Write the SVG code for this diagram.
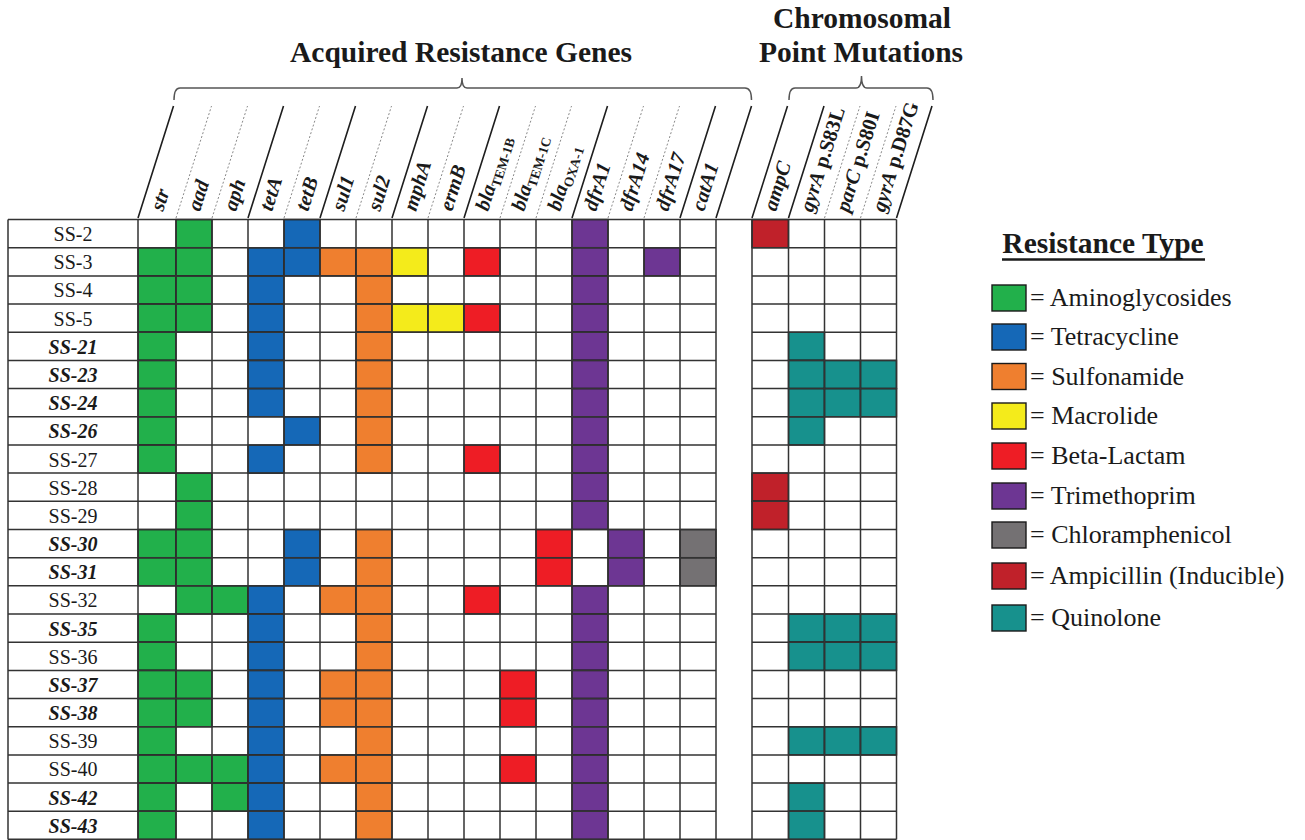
<svg xmlns="http://www.w3.org/2000/svg" width="1305" height="840" viewBox="0 0 1305 840">
<style>
text{font-family:"Liberation Serif","Times New Roman",serif;fill:#1a1a1a}
.title{font-size:29.5px;font-weight:bold;text-anchor:middle}
.hl{font-size:20.5px;font-weight:bold;font-style:italic}
.sub{font-size:13.5px;font-style:normal}
.up{font-style:normal}
.rl{font-size:20px;text-anchor:middle}
.rb{font-size:20px;text-anchor:middle;font-weight:bold;font-style:italic}
.lg{font-size:26px}
.solid{stroke:#1e1e1e;stroke-width:1.6;fill:none}
.dot{stroke:#8a8a8a;stroke-width:1;stroke-dasharray:2 2;fill:none}
.brace{stroke:#555;stroke-width:1.5;fill:none}
.grid{stroke:#333;stroke-width:1.5;fill:none}
.c{stroke:#1a1a1a;stroke-width:1.4}
.g{fill:#22b04b}.b{fill:#1568b7}.o{fill:#ef7f2f}.y{fill:#f4eb1b}.r{fill:#ee1d25}.p{fill:#6d3693}.k{fill:#747173}.d{fill:#c0212a}.t{fill:#17918d}
</style>
<rect width="1305" height="840" fill="#fff"/>

<g id="titles">
<text class="title" x="461" y="62">Acquired Resistance Genes</text>
<text class="title" x="862" y="28">Chromosomal</text>
<text class="title" x="861" y="62">Point Mutations</text>
</g>

<g id="connectors">
<path class="brace" d="M174,100 Q174,88 180,88 L457,88 Q462,88 462,78 Q462,88 467,88 L745,88 Q751.5,88 751.5,100"/>
<path class="brace" d="M789,100 Q789,88 795,88 L856,88 Q861.5,88 861.5,76 Q861.5,88 867,88 L927,88 Q933,88 933,100"/>
<g id="header-lines">
<path class="solid" d="M138,218L173.5,106M248,218L283.5,106M320,218L355.5,106M392,218L427.5,106M464,218L499.5,106M572,218L607.5,106M680,218L715.5,106M716,218L751.5,106M752,218L787.5,106M788.5,218L824,106M896.5,218L932,106"/>
<path class="dot" d="M176,218L211.5,106M212,218L247.5,106M284,218L319.5,106M356,218L391.5,106M428,218L463.5,106M500,218L535.5,106M536,218L571.5,106M608,218L643.5,106M644,218L679.5,106M824.5,218L860,106M860.5,218L896,106"/>
</g>
</g>

<g id="column-labels">
<text class="hl" transform="translate(163,212) rotate(-72.4)">str</text>
<text class="hl" transform="translate(200,212) rotate(-72.4)">aad</text>
<text class="hl" transform="translate(236,212) rotate(-72.4)">aph</text>
<text class="hl" transform="translate(272,212) rotate(-72.4)">tetA</text>
<text class="hl" transform="translate(308,212) rotate(-72.4)">tetB</text>
<text class="hl" transform="translate(344,212) rotate(-72.4)">sul1</text>
<text class="hl" transform="translate(380,212) rotate(-72.4)">sul2</text>
<text class="hl" transform="translate(416,212) rotate(-72.4)">mphA</text>
<text class="hl" transform="translate(452,212) rotate(-72.4)">ermB</text>
<text class="hl" transform="translate(488,212) rotate(-72.4)">bla<tspan class="sub" dy="4">TEM-1B</tspan></text>
<text class="hl" transform="translate(524,212) rotate(-72.4)">bla<tspan class="sub" dy="4">TEM-1C</tspan></text>
<text class="hl" transform="translate(560,212) rotate(-72.4)">bla<tspan class="sub" dy="4">OXA-1</tspan></text>
<text class="hl" transform="translate(596,212) rotate(-72.4)">dfrA1</text>
<text class="hl" transform="translate(632,212) rotate(-72.4)">dfrA14</text>
<text class="hl" transform="translate(668,212) rotate(-72.4)">dfrA17</text>
<text class="hl" transform="translate(704,212) rotate(-72.4)">catA1</text>
<text class="hl" transform="translate(776,212) rotate(-72.4)">ampC</text>
<text class="hl" transform="translate(812.5,213) rotate(-72.4)">gyrA<tspan class="up"> p.S83L</tspan></text>
<text class="hl" transform="translate(848.5,213) rotate(-72.4)">parC<tspan class="up"> p.S80I</tspan></text>
<text class="hl" transform="translate(884.5,213) rotate(-72.4)">gyrA<tspan class="up"> p.D87G</tspan></text>
</g>

<g id="table">
<rect x="8" y="219.5" width="708" height="620" fill="#fff"/>
<rect x="752" y="219.5" width="144.5" height="620" fill="#fff"/>
<g id="cells">
<g transform="translate(0,219.5)"><rect class="c g" x="176" width="36" height="28.18"/><rect class="c b" x="284" width="36" height="28.18"/><rect class="c p" x="572" width="36" height="28.18"/><rect class="c d" x="752" width="36.5" height="28.18"/></g>
<g transform="translate(0,247.7)"><rect class="c g" x="138" width="38" height="28.18"/><rect class="c g" x="176" width="36" height="28.18"/><rect class="c b" x="248" width="36" height="28.18"/><rect class="c b" x="284" width="36" height="28.18"/><rect class="c o" x="320" width="36" height="28.18"/><rect class="c o" x="356" width="36" height="28.18"/><rect class="c y" x="392" width="36" height="28.18"/><rect class="c r" x="464" width="36" height="28.18"/><rect class="c p" x="572" width="36" height="28.18"/><rect class="c p" x="644" width="36" height="28.18"/></g>
<g transform="translate(0,275.9)"><rect class="c g" x="138" width="38" height="28.18"/><rect class="c g" x="176" width="36" height="28.18"/><rect class="c b" x="248" width="36" height="28.18"/><rect class="c o" x="356" width="36" height="28.18"/><rect class="c p" x="572" width="36" height="28.18"/></g>
<g transform="translate(0,304)"><rect class="c g" x="138" width="38" height="28.18"/><rect class="c g" x="176" width="36" height="28.18"/><rect class="c b" x="248" width="36" height="28.18"/><rect class="c o" x="356" width="36" height="28.18"/><rect class="c y" x="392" width="36" height="28.18"/><rect class="c y" x="428" width="36" height="28.18"/><rect class="c r" x="464" width="36" height="28.18"/><rect class="c p" x="572" width="36" height="28.18"/></g>
<g transform="translate(0,332.2)"><rect class="c g" x="138" width="38" height="28.18"/><rect class="c b" x="248" width="36" height="28.18"/><rect class="c o" x="356" width="36" height="28.18"/><rect class="c p" x="572" width="36" height="28.18"/><rect class="c t" x="788.5" width="36" height="28.18"/></g>
<g transform="translate(0,360.4)"><rect class="c g" x="138" width="38" height="28.18"/><rect class="c b" x="248" width="36" height="28.18"/><rect class="c o" x="356" width="36" height="28.18"/><rect class="c p" x="572" width="36" height="28.18"/><rect class="c t" x="788.5" width="36" height="28.18"/><rect class="c t" x="824.5" width="36" height="28.18"/><rect class="c t" x="860.5" width="36" height="28.18"/></g>
<g transform="translate(0,388.6)"><rect class="c g" x="138" width="38" height="28.18"/><rect class="c b" x="248" width="36" height="28.18"/><rect class="c o" x="356" width="36" height="28.18"/><rect class="c p" x="572" width="36" height="28.18"/><rect class="c t" x="788.5" width="36" height="28.18"/><rect class="c t" x="824.5" width="36" height="28.18"/><rect class="c t" x="860.5" width="36" height="28.18"/></g>
<g transform="translate(0,416.8)"><rect class="c g" x="138" width="38" height="28.18"/><rect class="c b" x="284" width="36" height="28.18"/><rect class="c o" x="356" width="36" height="28.18"/><rect class="c p" x="572" width="36" height="28.18"/><rect class="c t" x="788.5" width="36" height="28.18"/></g>
<g transform="translate(0,445)"><rect class="c g" x="138" width="38" height="28.18"/><rect class="c b" x="248" width="36" height="28.18"/><rect class="c o" x="356" width="36" height="28.18"/><rect class="c r" x="464" width="36" height="28.18"/><rect class="c p" x="572" width="36" height="28.18"/></g>
<g transform="translate(0,473.1)"><rect class="c g" x="176" width="36" height="28.18"/><rect class="c p" x="572" width="36" height="28.18"/><rect class="c d" x="752" width="36.5" height="28.18"/></g>
<g transform="translate(0,501.3)"><rect class="c g" x="176" width="36" height="28.18"/><rect class="c p" x="572" width="36" height="28.18"/><rect class="c d" x="752" width="36.5" height="28.18"/></g>
<g transform="translate(0,529.5)"><rect class="c g" x="138" width="38" height="28.18"/><rect class="c g" x="176" width="36" height="28.18"/><rect class="c b" x="284" width="36" height="28.18"/><rect class="c o" x="356" width="36" height="28.18"/><rect class="c r" x="536" width="36" height="28.18"/><rect class="c p" x="608" width="36" height="28.18"/><rect class="c k" x="680" width="36" height="28.18"/></g>
<g transform="translate(0,557.7)"><rect class="c g" x="138" width="38" height="28.18"/><rect class="c g" x="176" width="36" height="28.18"/><rect class="c b" x="284" width="36" height="28.18"/><rect class="c o" x="356" width="36" height="28.18"/><rect class="c r" x="536" width="36" height="28.18"/><rect class="c p" x="608" width="36" height="28.18"/><rect class="c k" x="680" width="36" height="28.18"/></g>
<g transform="translate(0,585.8)"><rect class="c g" x="176" width="36" height="28.18"/><rect class="c g" x="212" width="36" height="28.18"/><rect class="c b" x="248" width="36" height="28.18"/><rect class="c o" x="320" width="36" height="28.18"/><rect class="c o" x="356" width="36" height="28.18"/><rect class="c r" x="464" width="36" height="28.18"/><rect class="c p" x="572" width="36" height="28.18"/></g>
<g transform="translate(0,614)"><rect class="c g" x="138" width="38" height="28.18"/><rect class="c b" x="248" width="36" height="28.18"/><rect class="c o" x="356" width="36" height="28.18"/><rect class="c p" x="572" width="36" height="28.18"/><rect class="c t" x="788.5" width="36" height="28.18"/><rect class="c t" x="824.5" width="36" height="28.18"/><rect class="c t" x="860.5" width="36" height="28.18"/></g>
<g transform="translate(0,642.2)"><rect class="c g" x="138" width="38" height="28.18"/><rect class="c b" x="248" width="36" height="28.18"/><rect class="c o" x="356" width="36" height="28.18"/><rect class="c p" x="572" width="36" height="28.18"/><rect class="c t" x="788.5" width="36" height="28.18"/><rect class="c t" x="824.5" width="36" height="28.18"/><rect class="c t" x="860.5" width="36" height="28.18"/></g>
<g transform="translate(0,670.4)"><rect class="c g" x="138" width="38" height="28.18"/><rect class="c g" x="176" width="36" height="28.18"/><rect class="c b" x="248" width="36" height="28.18"/><rect class="c o" x="320" width="36" height="28.18"/><rect class="c o" x="356" width="36" height="28.18"/><rect class="c r" x="500" width="36" height="28.18"/><rect class="c p" x="572" width="36" height="28.18"/></g>
<g transform="translate(0,698.6)"><rect class="c g" x="138" width="38" height="28.18"/><rect class="c g" x="176" width="36" height="28.18"/><rect class="c b" x="248" width="36" height="28.18"/><rect class="c o" x="320" width="36" height="28.18"/><rect class="c o" x="356" width="36" height="28.18"/><rect class="c r" x="500" width="36" height="28.18"/><rect class="c p" x="572" width="36" height="28.18"/></g>
<g transform="translate(0,726.7)"><rect class="c g" x="138" width="38" height="28.18"/><rect class="c b" x="248" width="36" height="28.18"/><rect class="c o" x="356" width="36" height="28.18"/><rect class="c p" x="572" width="36" height="28.18"/><rect class="c t" x="788.5" width="36" height="28.18"/><rect class="c t" x="824.5" width="36" height="28.18"/><rect class="c t" x="860.5" width="36" height="28.18"/></g>
<g transform="translate(0,754.9)"><rect class="c g" x="138" width="38" height="28.18"/><rect class="c g" x="176" width="36" height="28.18"/><rect class="c g" x="212" width="36" height="28.18"/><rect class="c b" x="248" width="36" height="28.18"/><rect class="c o" x="320" width="36" height="28.18"/><rect class="c o" x="356" width="36" height="28.18"/><rect class="c r" x="500" width="36" height="28.18"/><rect class="c p" x="572" width="36" height="28.18"/></g>
<g transform="translate(0,783.1)"><rect class="c g" x="138" width="38" height="28.18"/><rect class="c g" x="212" width="36" height="28.18"/><rect class="c b" x="248" width="36" height="28.18"/><rect class="c o" x="356" width="36" height="28.18"/><rect class="c p" x="572" width="36" height="28.18"/><rect class="c t" x="788.5" width="36" height="28.18"/></g>
<g transform="translate(0,811.3)"><rect class="c g" x="138" width="38" height="28.18"/><rect class="c b" x="248" width="36" height="28.18"/><rect class="c o" x="356" width="36" height="28.18"/><rect class="c p" x="572" width="36" height="28.18"/><rect class="c t" x="788.5" width="36" height="28.18"/></g>
</g>
<g id="grid" class="grid">
<path d="M8,219.5H896.5M8,247.7H716M752,247.7H896.5M8,275.9H716M752,275.9H896.5M8,304H716M752,304H896.5M8,332.2H716M752,332.2H896.5M8,360.4H716M752,360.4H896.5M8,388.6H716M752,388.6H896.5M8,416.8H716M752,416.8H896.5M8,445H716M752,445H896.5M8,473.1H716M752,473.1H896.5M8,501.3H716M752,501.3H896.5M8,529.5H716M752,529.5H896.5M8,557.7H716M752,557.7H896.5M8,585.8H716M752,585.8H896.5M8,614H716M752,614H896.5M8,642.2H716M752,642.2H896.5M8,670.4H716M752,670.4H896.5M8,698.6H716M752,698.6H896.5M8,726.7H716M752,726.7H896.5M8,754.9H716M752,754.9H896.5M8,783.1H716M752,783.1H896.5M8,811.3H716M752,811.3H896.5M8,839.3H896.5"/>
<path d="M8,219.5V839.5M138,219.5V839.5M176,219.5V839.5M212,219.5V839.5M248,219.5V839.5M284,219.5V839.5M320,219.5V839.5M356,219.5V839.5M392,219.5V839.5M428,219.5V839.5M464,219.5V839.5M500,219.5V839.5M536,219.5V839.5M572,219.5V839.5M608,219.5V839.5M644,219.5V839.5M680,219.5V839.5M716,219.5V839.5M752,219.5V839.5M788.5,219.5V839.5M824.5,219.5V839.5M860.5,219.5V839.5M896.5,219.5V839.5"/>
</g>
<g id="row-labels">
<text class="rl" x="73" y="241">SS-2</text>
<text class="rl" x="73" y="269.2">SS-3</text>
<text class="rl" x="73" y="297.4">SS-4</text>
<text class="rl" x="73" y="325.5">SS-5</text>
<text class="rb" x="73" y="353.7">SS-21</text>
<text class="rb" x="73" y="381.9">SS-23</text>
<text class="rb" x="73" y="410.1">SS-24</text>
<text class="rb" x="73" y="438.3">SS-26</text>
<text class="rl" x="73" y="466.5">SS-27</text>
<text class="rl" x="73" y="494.6">SS-28</text>
<text class="rl" x="73" y="522.8">SS-29</text>
<text class="rb" x="73" y="551">SS-30</text>
<text class="rb" x="73" y="579.2">SS-31</text>
<text class="rl" x="73" y="607.3">SS-32</text>
<text class="rb" x="73" y="635.5">SS-35</text>
<text class="rl" x="73" y="663.7">SS-36</text>
<text class="rb" x="73" y="691.9">SS-37</text>
<text class="rb" x="73" y="720.1">SS-38</text>
<text class="rl" x="73" y="748.2">SS-39</text>
<text class="rl" x="73" y="776.4">SS-40</text>
<text class="rb" x="73" y="804.6">SS-42</text>
<text class="rb" x="73" y="832.8">SS-43</text>
</g>
</g>

<g id="legend">
<g id="legend-title"><text class="title" x="1103" y="253">Resistance Type</text><line x1="1002" y1="259.5" x2="1205" y2="259.5" stroke="#1a1a1a" stroke-width="2.5"/></g>
<g id="leg-amino"><rect class="c g" x="992" y="285" width="34" height="26"/><text class="lg" x="1030" y="306">= Aminoglycosides</text></g>
<g id="leg-tetra"><rect class="c b" x="992" y="324" width="34" height="26"/><text class="lg" x="1030" y="345">= Tetracycline</text></g>
<g id="leg-sulfa"><rect class="c o" x="992" y="363.5" width="34" height="26"/><text class="lg" x="1030" y="384.5">= Sulfonamide</text></g>
<g id="leg-macro"><rect class="c y" x="992" y="403" width="34" height="26"/><text class="lg" x="1030" y="424">= Macrolide</text></g>
<g id="leg-beta"><rect class="c r" x="992" y="443" width="34" height="26"/><text class="lg" x="1030" y="464">= Beta-Lactam</text></g>
<g id="leg-trimeth"><rect class="c p" x="992" y="483" width="34" height="26"/><text class="lg" x="1030" y="504">= Trimethoprim</text></g>
<g id="leg-chloram"><rect class="c k" x="992" y="522" width="34" height="26"/><text class="lg" x="1030" y="543">= Chloramphenicol</text></g>
<g id="leg-ampi"><rect class="c d" x="992" y="563" width="34" height="26"/><text class="lg" x="1030" y="584">= Ampicillin (Inducible)</text></g>
<g id="leg-quino"><rect class="c t" x="992" y="605" width="34" height="26"/><text class="lg" x="1030" y="626">= Quinolone</text></g>
</g>
</svg>
